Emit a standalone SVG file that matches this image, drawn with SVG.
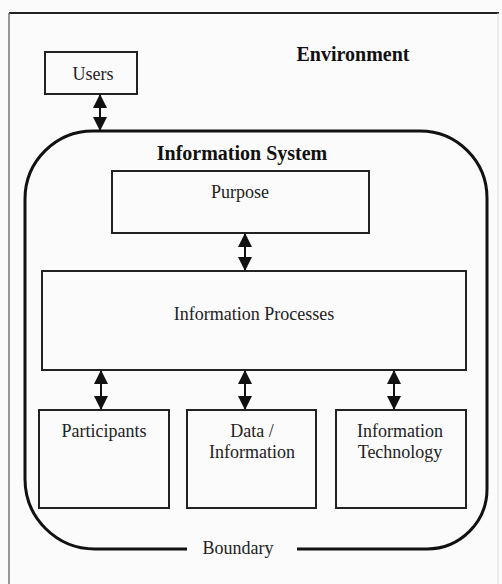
<svg xmlns="http://www.w3.org/2000/svg" width="502" height="584" viewBox="0 0 502 584">
  <defs>
    <marker id="ah" viewBox="0 0 14 14" refX="13" refY="7" markerWidth="14" markerHeight="14" markerUnits="userSpaceOnUse" orient="auto-start-reverse">
      <path d="M0,0 L14,7 L0,14 Z" fill="#111"/>
    </marker>
  </defs>
  <style>
    .box { fill: none; stroke: #222; stroke-width: 2; }
    .t { font-family: "Liberation Serif", "Times New Roman", serif; font-size: 18px; fill: #222; text-anchor: middle; }
    .b { font-weight: bold; font-size: 20px; fill: #111; }
    .conn line { stroke: #111; stroke-width: 2; marker-start: url(#ah); marker-end: url(#ah); }
  </style>
  <rect x="0" y="0" width="502" height="584" fill="#fbfbfb"/>

  <g id="environment">
    <line x1="9" y1="13" x2="499" y2="13" stroke="#222" stroke-width="2"/>
    <line x1="9" y1="13" x2="9" y2="584" stroke="#777" stroke-width="1.5"/>
    <line x1="498" y1="13" x2="498" y2="584" stroke="#ddd" stroke-width="1"/>
    <text class="t b" x="353" y="61">Environment</text>
  </g>

  <g id="users">
    <rect class="box" x="45" y="52" width="92" height="42"/>
    <text class="t" x="93" y="80">Users</text>
  </g>

  <g id="information-system">
    <path d="M187,549 H95 A70,70 0 0 1 25,479 V199 A68,68 0 0 1 93,131 H420 A67,67 0 0 1 487,198 V489 A60,60 0 0 1 427,549 H297" fill="none" stroke="#111" stroke-width="3"/>
    <text class="t b" x="242" y="160">Information System</text>
    <text class="t" x="238" y="554">Boundary</text>
  </g>

  <g id="purpose">
    <rect class="box" x="112" y="171" width="257" height="62"/>
    <text class="t" x="240" y="198">Purpose</text>
  </g>

  <g id="information-processes">
    <rect class="box" x="42" y="271" width="424" height="99"/>
    <text class="t" x="254" y="320">Information Processes</text>
  </g>

  <g id="participants">
    <rect class="box" x="39" y="410" width="130" height="98"/>
    <text class="t" x="104" y="437">Participants</text>
  </g>

  <g id="data-information">
    <rect class="box" x="187" y="410" width="129" height="98"/>
    <text class="t" x="252" y="437">Data /</text>
    <text class="t" x="252" y="458">Information</text>
  </g>

  <g id="information-technology">
    <rect class="box" x="336" y="410" width="130" height="98"/>
    <text class="t" x="400" y="437">Information</text>
    <text class="t" x="400" y="458">Technology</text>
  </g>

  <g id="connectors" class="conn">
    <line x1="100" y1="95" x2="100" y2="130"/>
    <line x1="245" y1="234" x2="245" y2="270"/>
    <line x1="101" y1="371" x2="101" y2="409"/>
    <line x1="245" y1="371" x2="245" y2="409"/>
    <line x1="394" y1="371" x2="394" y2="409"/>
  </g>
</svg>
